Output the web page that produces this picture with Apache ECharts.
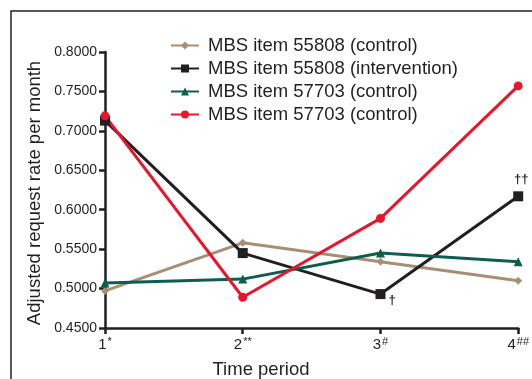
<!DOCTYPE html>
<html>
<head>
<meta charset="utf-8">
<script src="https://cdn.jsdelivr.net/npm/echarts@6/dist/echarts.min.js"></script>
<style>
  html, body { margin: 0; padding: 0; background: #fff; }
  #chart { width: 532px; height: 379px; }
</style>
</head>
<body>
<div id="chart"></div>
<script>
  // time periods and the superscript marks after each number
  var periods = ["1", "2", "3", "4"];
  var periodMarks = ["*", "**", "#", "##"];

  var names = [
    "MBS item 55808 (control)",
    "MBS item 55808 (intervention)",
    "MBS item 57703 (control)",
    "MBS item 57703 (control) "
  ];

  var item55808Control = [0.497, 0.558, 0.534, 0.510];
  var item55808Intervention = [0.713, 0.545, 0.493, 0.617];
  var item57703Control = [0.507, 0.512, 0.545, 0.534];
  var item57703ControlB = [0.719, 0.489, 0.589, 0.757];

  // significance marks on the intervention line
  var interventionMarks = ["", "", "\u2020", "\u2020\u2020"];

  var yTicks = ["0.4500", "0.5000", "0.5500", "0.6000", "0.6500", "0.7000", "0.7500", "0.8000"];

  var sans = "'Liberation Sans', Arial, sans-serif";

  function mkSeries(name, data, color, symbol, size) {
    return {
      name: name,
      type: "line",
      data: data,
      symbol: symbol,
      symbolSize: size,
      lineStyle: { color: color, width: 3 },
      itemStyle: { color: color },
      z: 3
    };
  }

  var interventionData = item55808Intervention.map(function (v, i) {
    var d = { value: v };
    if (interventionMarks[i]) {
      d.label = {
        show: true,
        formatter: interventionMarks[i],
        position: i == 2 ? "right" : "top",
        offset: i == 2 ? [-2, 6] : [3, 0],
        color: "#231f20",
        fontSize: 13,
        fontWeight: "bold"
      };
    }
    return d;
  });

  var chart = echarts.init(document.getElementById("chart"));
  chart.setOption({
    animation: false,
    grid: { left: 105, right: 9, top: 52, bottom: 51 },
    legend: {
      orient: "vertical",
      left: 165,
      top: 31,
      itemGap: 4,
      itemWidth: 28,
      itemHeight: 10,
      textStyle: { fontFamily: sans, fontSize: 18.5, color: "#231f20", padding: [0, 0, 0, 4] },
      data: names
    },
    xAxis: {
      type: "category",
      boundaryGap: false,
      data: periods,
      axisLine: { lineStyle: { color: "#231f20", width: 2.5 } },
      axisTick: { show: true, length: 6, lineStyle: { color: "#231f20", width: 2.5 } },
      axisLabel: {
        margin: 8,
        formatter: function (v, i) {
          return "{n|" + v + "}{s|" + periodMarks[i] + "}";
        },
        rich: {
          n: { fontFamily: sans, fontSize: 15, color: "#231f20" },
          s: { fontFamily: sans, fontSize: 11, color: "#231f20", verticalAlign: "top", padding: [0, 0, 6, 1] }
        }
      },
      splitLine: { show: false }
    },
    yAxis: {
      type: "value",
      min: 0.45,
      max: 0.80,
      interval: 0.05,
      axisLine: { show: true, lineStyle: { color: "#231f20", width: 2.5 } },
      axisTick: { show: true, length: 6, lineStyle: { color: "#231f20", width: 2.5 } },
      axisLabel: {
        margin: 8,
        fontFamily: sans,
        fontSize: 14,
        color: "#231f20",
        formatter: function (v) {
          var i = Math.round((v - 0.45) / 0.05);
          return yTicks[i];
        }
      },
      splitLine: { show: false }
    },
    graphic: [
      {
        type: "rect",
        shape: { x: 11, y: 11, width: 600, height: 420 },
        style: { fill: "none", stroke: "#231f20", lineWidth: 1.5 },
        silent: true
      },
      {
        type: "text",
        x: 35,
        y: 193,
        rotation: Math.PI / 2,
        style: {
          text: "Adjusted request rate per month",
          fontFamily: sans,
          fontSize: 18.5,
          fill: "#231f20",
          align: "center",
          verticalAlign: "middle"
        }
      },
      {
        type: "text",
        x: 261,
        y: 370,
        style: {
          text: "Time period",
          fontFamily: sans,
          fontSize: 18.5,
          fill: "#231f20",
          align: "center",
          verticalAlign: "middle"
        }
      }
    ],
    series: [
      mkSeries(names[0], item55808Control, "#a88f74", "diamond", 8),
      mkSeries(names[1], interventionData, "#231f20", "rect", 10),
      mkSeries(names[2], item57703Control, "#0d5e4e", "triangle", 9),
      mkSeries(names[3], item57703ControlB, "#e8152b", "circle", 9)
    ]
  });
</script>
</body>
</html>
